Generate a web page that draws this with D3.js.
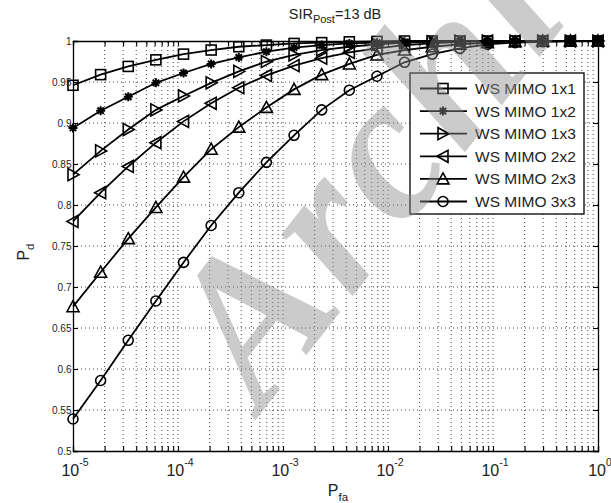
<!DOCTYPE html>
<html>
<head>
<meta charset="utf-8">
<script src="https://cdn.jsdelivr.net/npm/d3@7"></script>
<style>
  body { margin: 0; background: #fff; }
  svg { font-family: "Liberation Sans", Arial, sans-serif; }
</style>
</head>
<body>
<div id="chart"></div>
<script>
// P_fa grid (logspace -5..0, 20 points)
const pfa = [1e-5, 1.833e-5, 3.360e-5, 6.158e-5, 1.129e-4, 2.069e-4, 3.793e-4, 6.952e-4,
             1.274e-3, 2.336e-3, 4.281e-3, 7.848e-3, 1.438e-2, 2.637e-2, 4.833e-2,
             8.859e-2, 0.1624, 0.2976, 0.5456, 1];

const ws11 = [0.946, 0.959, 0.969, 0.977, 0.984, 0.989, 0.993, 0.995, 0.997, 0.998, 0.999, 0.9995, 1, 1, 1, 1, 1, 1, 1, 1];
const ws12 = [0.894, 0.915, 0.932, 0.949, 0.961, 0.972, 0.980, 0.987, 0.992, 0.995, 0.997, 0.998, 0.999, 1, 1, 1, 1, 1, 1, 1];
const ws13 = [0.837, 0.866, 0.892, 0.916, 0.933, 0.949, 0.963, 0.975, 0.983, 0.989, 0.993, 0.996, 0.998, 0.999, 1, 1, 1, 1, 1, 1];
const ws22 = [0.780, 0.815, 0.847, 0.876, 0.902, 0.924, 0.943, 0.958, 0.970, 0.979, 0.986, 0.991, 0.995, 0.997, 0.999, 1, 1, 1, 1, 1];
const ws23 = [0.676, 0.718, 0.759, 0.797, 0.834, 0.868, 0.895, 0.919, 0.941, 0.959, 0.972, 0.983, 0.989, 0.993, 0.996, 0.998, 0.999, 1, 1, 1];
const ws33 = [0.539, 0.586, 0.635, 0.683, 0.730, 0.775, 0.815, 0.852, 0.885, 0.916, 0.940, 0.957, 0.974, 0.984, 0.991, 0.996, 0.998, 0.999, 1, 1];

const seriesNames = ["WS MIMO 1x1", "WS MIMO 1x2", "WS MIMO 1x3", "WS MIMO 2x2", "WS MIMO 2x3", "WS MIMO 3x3"];
const seriesMarkers = ["square", "star", "right", "left", "up", "circle"];
const seriesValues = [ws11, ws12, ws13, ws22, ws23, ws33];

const xMajor = [1e-5, 1e-4, 1e-3, 1e-2, 1e-1, 1];
const xExp = ["-5", "-4", "-3", "-2", "-1", "0"];
const yTicks = [0.5, 0.55, 0.6, 0.65, 0.7, 0.75, 0.8, 0.85, 0.9, 0.95, 1];
const yLabels = ["0.5", "0.55", "0.6", "0.65", "0.7", "0.75", "0.8", "0.85", "0.9", "0.95", "1"];

const width = 611, height = 503,
      margin = ({top: 41, right: 13, bottom: 52, left: 73});

const svg = d3.select("#chart").append("svg")
    .attr("width", width).attr("height", height)
    .attr("viewBox", [0, 0, width, height]);

const x = d3.scaleLog().domain([1e-5, 1]).range([margin.left, width - margin.right]);
const y = d3.scaleLinear().domain([0.5, 1]).range([height - margin.bottom, margin.top]);

// minor ticks 2..9 in each decade
let xMinor = [];
for (let i = 0; i < xMajor.length - 1; i++) {
    for (let m = 2; m <= 9; m++) xMinor.push(xMajor[i] * m);
}

// grid
const grid = svg.append("g").attr("stroke", "#333").attr("stroke-width", 0.9)
    .attr("stroke-dasharray", "1,3");
grid.selectAll(".gx").data(xMajor.concat(xMinor).filter(v => v > 1e-5 && v < 1)).join("line")
    .attr("x1", d => x(d)).attr("x2", d => x(d))
    .attr("y1", y(0.5)).attr("y2", y(1));
grid.selectAll(".gy").data(yTicks.filter(v => v > 0.5 && v < 1)).join("line")
    .attr("x1", x(1e-5)).attr("x2", x(1))
    .attr("y1", d => y(d)).attr("y2", d => y(d));

// marker shapes
function marker(g, type) {
    const s = 5;
    if (type === "square") {
        g.append("rect").attr("x", -s).attr("y", -s).attr("width", 2 * s).attr("height", 2 * s);
    } else if (type === "circle") {
        g.append("circle").attr("r", s);
    } else if (type === "up") {
        g.append("path").attr("d", `M0,${-s - 1}L${s + 1},${s}L${-s - 1},${s}Z`);
    } else if (type === "right") {
        g.append("path").attr("d", `M${s + 1},0L${-s},${-s - 1}L${-s},${s + 1}Z`);
    } else if (type === "left") {
        g.append("path").attr("d", `M${-s - 1},0L${s},${-s - 1}L${s},${s + 1}Z`);
    } else if (type === "star") {
        const r = 4.5, d = 3.2;
        g.append("path").attr("stroke-width", 2)
            .attr("d", `M${-r},0H${r}M0,${-r}V${r}M${-d},${-d}L${d},${d}M${-d},${d}L${d},${-d}`);
    }
}

const line = d3.line().x(d => x(d[0])).y(d => y(d[1]));

seriesValues.forEach((vals, i) => {
    const pts = pfa.map((p, k) => [p, vals[k]]);
    svg.append("path").datum(pts)
        .attr("fill", "none").attr("stroke", "#000").attr("stroke-width", 1.8)
        .attr("d", line);
    const mk = svg.append("g").attr("fill", "none").attr("stroke", "#000").attr("stroke-width", 1.6);
    pts.forEach(p => {
        const g = mk.append("g").attr("transform", `translate(${x(p[0])},${y(p[1])})`);
        marker(g, seriesMarkers[i]);
    });
});

// axes
const axes = svg.append("g").attr("font-size", 16).attr("font-family", "Liberation Sans, Arial, sans-serif");

const yAxis = axes.append("g")
    .attr("transform", `translate(${margin.left},0)`)
    .call(d3.axisLeft(y).tickValues(yTicks).tickFormat((d, i) => yLabels[i]).tickSize(-5).tickPadding(3));
axes.append("g")
    .attr("transform", `translate(${width - margin.right},0)`)
    .call(d3.axisRight(y).tickValues(yTicks).tickFormat("").tickSize(-5));

axes.append("g")
    .attr("transform", `translate(0,${height - margin.bottom})`)
    .call(d3.axisBottom(x).tickValues(xMajor.concat(xMinor)).tickFormat("").tickSize(-5));
axes.append("g")
    .attr("transform", `translate(0,${margin.top})`)
    .call(d3.axisTop(x).tickValues(xMajor.concat(xMinor)).tickFormat("").tickSize(-5));

axes.selectAll(".domain").attr("stroke", "#000").attr("stroke-width", 1.3);
axes.selectAll(".tick line").attr("stroke", "#000").attr("stroke-width", 1.1);
yAxis.selectAll("text").attr("fill", "#222").attr("dx", "0.15em");

// x tick labels 10^n
const xl = axes.append("g").attr("fill", "#222");
xMajor.forEach((v, i) => {
    const t = xl.append("text").attr("x", x(v) + 2).attr("y", height - margin.bottom + 25)
        .attr("text-anchor", "middle").attr("font-size", 16);
    t.append("tspan").text("10");
    t.append("tspan").attr("font-size", 10.5).attr("dy", -10).text(xExp[i]);
});

// title and axis labels
const title = svg.append("text").attr("x", 335).attr("y", 19).attr("text-anchor", "middle")
    .attr("font-size", 14.5).attr("fill", "#222");
title.append("tspan").text("SIR");
title.append("tspan").attr("font-size", 11).attr("dy", 4).text("Post");
title.append("tspan").attr("dy", -4).text("=13 dB");

const xlab = svg.append("text").attr("x", 338).attr("y", 496).attr("text-anchor", "middle")
    .attr("font-size", 16).attr("fill", "#222");
xlab.append("tspan").text("P");
xlab.append("tspan").attr("font-size", 11.5).attr("dy", 5).text("fa");

const ylab = svg.append("text").attr("transform", "translate(29,252) rotate(-90)")
    .attr("text-anchor", "middle").attr("font-size", 16).attr("fill", "#222");
ylab.append("tspan").text("P");
ylab.append("tspan").attr("font-size", 11.5).attr("dy", 5).text("d");

// legend
const lg = svg.append("g");
lg.append("rect").attr("x", 410).attr("y", 73).attr("width", 174).attr("height", 141)
    .attr("fill", "#fff").attr("stroke", "#000").attr("stroke-width", 1.3);
seriesNames.forEach((name, i) => {
    const ry = 88.5 + i * 22.6;
    lg.append("line").attr("x1", 420).attr("x2", 467).attr("y1", ry).attr("y2", ry)
        .attr("stroke", "#000").attr("stroke-width", 1.8);
    const g = lg.append("g").attr("transform", `translate(443,${ry})`)
        .attr("fill", "none").attr("stroke", "#000").attr("stroke-width", 1.6);
    marker(g, seriesMarkers[i]);
    lg.append("text").attr("x", 475).attr("y", ry + 5.5).attr("font-size", 15.5)
        .attr("fill", "#222").text(name);
});

// watermark
svg.append("text").attr("transform", "translate(262,412) rotate(-52)")
    .attr("font-family", "Liberation Serif, serif").attr("font-weight", "bold").attr("font-style", "italic")
    .attr("font-size", 205).attr("letter-spacing", 6).attr("fill", "#8c8c8c").attr("fill-opacity", 0.45)
    .text("Archive");
</script>
</body>
</html>
